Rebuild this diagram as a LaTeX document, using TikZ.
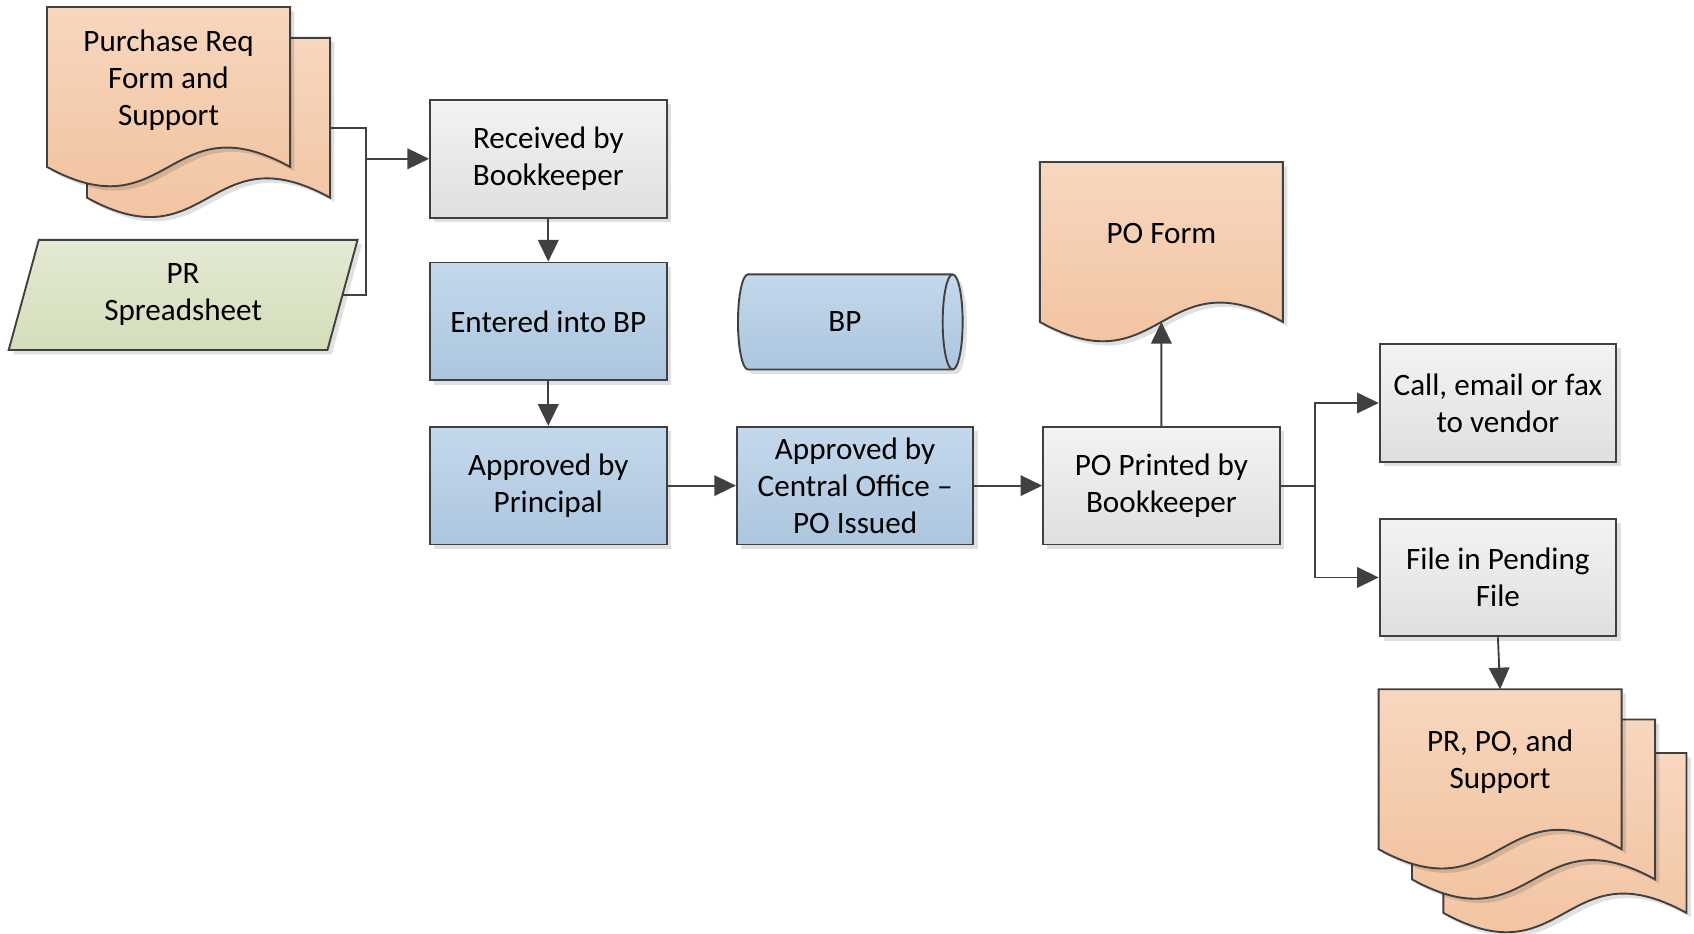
\documentclass[tikz,border=0pt]{standalone}
\usepackage{xcolor}
\usepackage{fontspec}
\setmainfont{Carlito}
\usepackage{tikz}
\usetikzlibrary{arrows.meta,shapes.geometric,shadows}

\definecolor{edgegray}{HTML}{404040}
\definecolor{greyTop}{HTML}{F3F3F3}
\definecolor{greyBot}{HTML}{DFDFDF}
\definecolor{blueTop}{HTML}{C4D8EB}
\definecolor{blueBot}{HTML}{ACC6DF}
\definecolor{docTop}{HTML}{F7D7BF}
\definecolor{docBot}{HTML}{F1BF9A}
\definecolor{greenTop}{HTML}{E4EAD4}
\definecolor{greenBot}{HTML}{D4DDBA}

\tikzset{
  boxline/.style={draw=edgegray, line width=1pt},
  softshadow/.style={drop shadow={shadow xshift=0.08cm, shadow yshift=-0.08cm, fill=black, opacity=0.12}},
  wire/.style={draw=edgegray, line width=1pt},
  link/.style={wire, -{Triangle[length=0.4cm, width=0.38cm]}},
  procbox/.style={boxline, softshadow, minimum width=4.38cm, minimum height=2.18cm, align=center, inner sep=0pt},
  greybox/.style={procbox, top color=greyTop, bottom color=greyBot},
  bluebox/.style={procbox, top color=blueTop, bottom color=blueBot},
  sheet/.style={trapezium, trapezium left angle=64, trapezium right angle=116, trapezium stretches body,
    minimum width=6.46cm, minimum height=2.04cm, boxline, softshadow, top color=greenTop, bottom color=greenBot,
    align=center, inner sep=0pt},
  bpdisk/.style={cylinder, shape border rotate=0, aspect=1, minimum width=1.76cm, minimum height=4.16cm,
    boxline, softshadow, top color=blueTop, bottom color=blueBot, inner sep=0pt},
  doctext/.style={align=center, inner sep=0pt},
  docpage/.pic={
    \path[boxline, softshadow, top color=docTop, bottom color=docBot]
      (0,0) -- (225,0) -- (225,148) .. controls (112.5,86) and (112.5,210) .. (0,148) -- cycle;
    \coordinate (-n) at (112.5,0);
    \coordinate (-s) at (112.5,148);
    \coordinate (-e) at (225,83.5);
  }
}

\begin{document}
\begin{tikzpicture}[x=0.02cm, y=-0.02cm, font=\fontsize{16.4}{19.4}\selectfont]
             \useasboundingbox (0,0) rectangle (1568,864);

             \pic (prfb) at (80.5,35) {docpage};
             \pic (prf) at (43.5,6.5) {docpage};
             \node[doctext] (prftxt) at (156,74) {Purchase Req\\Form and\\Support};
             \node[sheet] (prs) at (169.5,273) {PR\\Spreadsheet};

             \node[greybox] (recv) at (507.5,147) {Received by\\Bookkeeper};
             \node[bluebox] (entr) at (507.5,297.5) {Entered into BP};
             \node[bluebox] (aprp) at (507.5,449.5) {Approved by\\Principal};
             \node[bluebox] (aprc) at (791.5,449.5) {Approved by\\Central Office --\\PO Issued};
             \node[bpdisk] (bp) at (782,298) {BP};

             \pic (pof) at (962.5,150) {docpage};
             \node[doctext] (poftxt) at (1075,216) {PO Form};
             \node[greybox] (popr) at (1075,449.5) {PO Printed by\\Bookkeeper};
             \node[greybox] (call) at (1386.5,373) {Call, email or fax\\to vendor};
             \node[greybox] (file) at (1386.5,534.5) {File in Pending\\File};

             \pic (pile3) at (1336,697) {docpage};
             \pic (pile2) at (1307,666) {docpage};
             \pic (pile1) at (1276,638) {docpage};
             \node[doctext] (piletxt) at (1388.5,705) {PR, PO, and\\Support};

             \coordinate (mrg) at (339,147);
             \draw[wire] (prfb-e) -| (mrg) |- (prs.east);
             \draw[link] (mrg) -- (recv.west);
             \draw[link] (recv) -- (entr);
             \draw[link] (entr) -- (aprp);
             \draw[link] (aprp) -- (aprc);
             \draw[link] (aprc) -- (popr);
             \draw[link] (popr.north) -- (pof-s);

             \coordinate (spl) at (1217,449.5);
             \draw[wire] (popr.east) -- (spl);
             \draw[link] (spl) |- (call.west);
             \draw[link] (spl) |- (file.west);
             \draw[link] (file.south) -- (pile1-n);
             \end{tikzpicture}
\end{document}
